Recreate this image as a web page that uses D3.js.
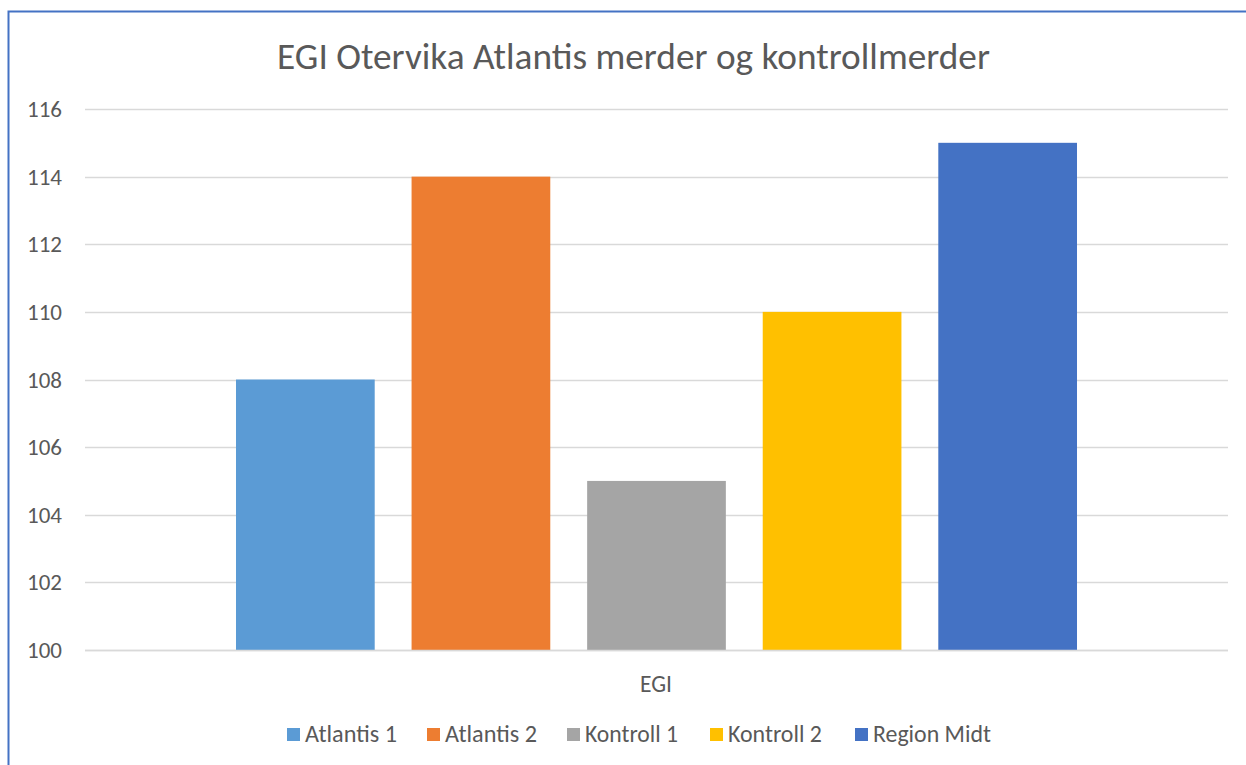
<!DOCTYPE html>
<html><head><meta charset="utf-8">
<script src="https://cdn.jsdelivr.net/npm/d3@7"></script>
<style>html,body{margin:0;padding:0;background:#fff;}svg{display:block;}</style>
</head><body>
<script>
const title = "EGI Otervika Atlantis merder og kontrollmerder";
const category = "EGI";
const series = ["Atlantis 1", "Atlantis 2", "Kontroll 1", "Kontroll 2", "Region Midt"];
const values = [108, 114, 105, 110, 115];
const colors = ["#5B9BD5", "#ED7D31", "#A5A5A5", "#FFC000", "#4472C4"];
const yTicks = [100, 102, 104, 106, 108, 110, 112, 114, 116];

const W = 1246, H = 765;
const FONT = "Carlito, 'Liberation Sans', Arial, sans-serif";
const svg = d3.select("body").append("svg").attr("width", W).attr("height", H);
svg.append("rect").attr("width", W).attr("height", H).attr("fill", "#fff");
// border (left + top visible)
svg.append("path").attr("d", `M8.5,${H} L8.5,11.5 L${W},11.5`).attr("fill", "none").attr("stroke", "#4472C4").attr("stroke-width", 2);

const plot = {left: 85, right: 1228, top: 109, bottom: 650};
const y = d3.scaleLinear().domain([100, 116]).range([plot.bottom, plot.top]);
const x = d3.scaleBand().domain(series).range([plot.left, plot.right]).paddingInner(0.21).paddingOuter(0.86);

function fit(sel, target, base) {
  sel.attr("font-size", base);
  const w = sel.node().getComputedTextLength();
  sel.attr("font-size", base * target / w);
}

// grid
svg.append("g").selectAll("line").data(yTicks).join("line")
  .attr("x1", plot.left).attr("x2", plot.right)
  .attr("y1", d => Math.round(y(d)) + 0.5).attr("y2", d => Math.round(y(d)) + 0.5)
  .attr("stroke", "#D9D9D9").attr("stroke-width", 1.5);

// y axis labels
const yl = svg.append("g").selectAll("text").data(yTicks).join("text")
  .attr("x", 62).attr("y", d => y(d)).attr("dy", "0.35em")
  .attr("text-anchor", "end").attr("fill", "#595959")
  .attr("font-family", FONT).attr("font-size", 18).text(d => d);
fit(d3.select(yl.nodes()[0]), 35, 18);
yl.attr("font-size", d3.select(yl.nodes()[0]).attr("font-size"));

// bars
svg.append("g").selectAll("rect").data(series).join("rect")
  .attr("x", d => x(d)).attr("width", x.bandwidth())
  .attr("y", (d, i) => y(values[i])).attr("height", (d, i) => y(100) - y(values[i]))
  .attr("fill", (d, i) => colors[i]);

// baseline redraw
svg.append("line").attr("x1", plot.left).attr("x2", plot.right)
  .attr("y1", Math.round(y(100)) + 0.5).attr("y2", Math.round(y(100)) + 0.5)
  .attr("stroke", "#D9D9D9").attr("stroke-width", 1.5);

// category label
const cl = svg.append("text").attr("x", 656).attr("y", 684).attr("dy", "0.35em")
  .attr("text-anchor", "middle").attr("fill", "#595959").attr("font-family", FONT).text(category);
fit(cl, 32, 18);

// title
const t = svg.append("text").attr("x", 633.5).attr("y", 56).attr("dy", "0.35em")
  .attr("text-anchor", "middle").attr("fill", "#595959").attr("font-family", FONT).text(title);
fit(t, 713, 31);

// legend
const lg = svg.append("g");
const legendX = [287, 427, 567, 710, 855];
const legendW = [92, 92, 93, 94, 118];
series.forEach((s, i) => {
  lg.append("rect").attr("x", legendX[i]).attr("y", 728).attr("width", 13).attr("height", 13).attr("fill", colors[i]);
  const tx = lg.append("text").attr("x", legendX[i] + 18).attr("y", 734).attr("dy", "0.35em")
    .attr("fill", "#595959").attr("font-family", FONT).text(s);
  fit(tx, legendW[i], 19);
});
</script>
</body></html>
